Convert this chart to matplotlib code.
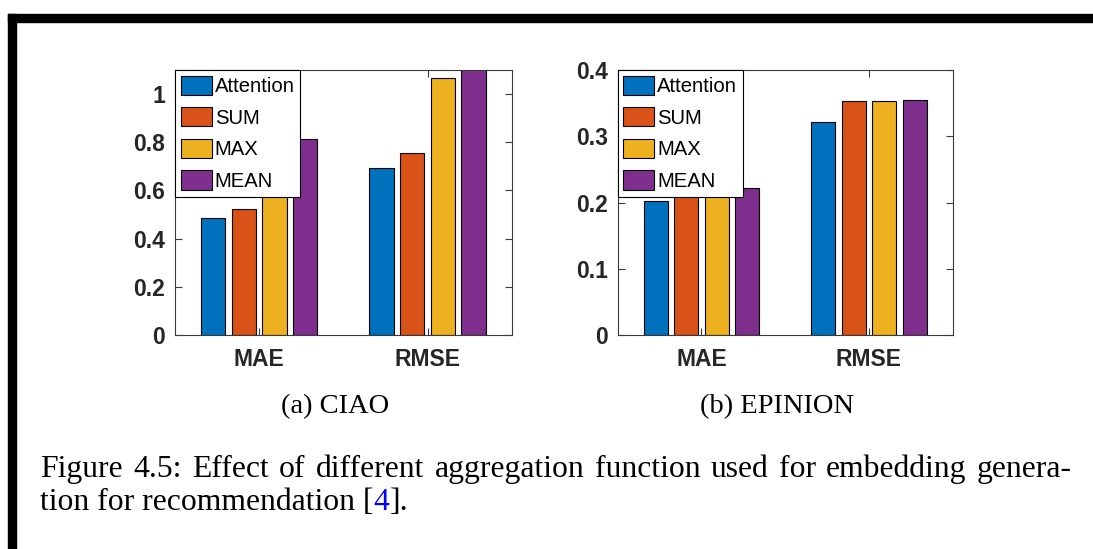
import matplotlib
matplotlib.use("Agg")
import matplotlib.pyplot as plt
import numpy as np
from matplotlib.patches import Rectangle

# ---- data ---------------------------------------------------------------
metrics = ["MAE", "RMSE"]
methods = ["Attention", "SUM", "MAX", "MEAN"]

ciao_attention = [0.485, 0.694]
ciao_sum = [0.521, 0.757]
ciao_max = [0.74, 1.067]
ciao_mean = [0.814, 1.13]

epinion_attention = [0.203, 0.322]
epinion_sum = [0.2165, 0.3525]
epinion_max = [0.216, 0.3525]
epinion_mean = [0.2215, 0.355]

ciao_yticks = [0, 0.2, 0.4, 0.6, 0.8, 1.0]
ciao_yticklabels = ["0", "0.2", "0.4", "0.6", "0.8", "1"]
epinion_yticks = [0, 0.1, 0.2, 0.3, 0.4]
epinion_yticklabels = ["0", "0.1", "0.2", "0.3", "0.4"]

subcaptions = ["(a) CIAO", "(b) EPINION"]
caption_line1 = ("Figure 4.5: Effect of different aggregation function used "
                 "for embedding genera-")
caption_line2 = ["tion for recommendation [", "4", "]."]

# ---- style --------------------------------------------------------------
colors = ["#0072BD", "#D95319", "#EDB120", "#7E2F8E"]
axis_color = "#3a3a3a"
W, H = 1093, 549

fig = plt.figure(figsize=(W / 100, H / 100), dpi=100)
fig.patch.set_facecolor("white")


def fx(px):
    return px / W


def fy(py):
    return 1 - py / H


def bar_panel(rect, series, ylim, yticks, yticklabels):
    ax = fig.add_axes(rect)
    x = np.arange(1, len(metrics) + 1)
    step = 0.182
    width = 0.145
    for i, (vals, name) in enumerate(zip(series, methods)):
        ax.bar(x + (i - 1.5) * step, vals, width, color=colors[i],
               edgecolor="black", linewidth=0.8, label=name, zorder=2)
    ax.set_xlim(0.5, 2.5)
    ax.set_ylim(*ylim)
    ax.set_xticks(x)
    ax.set_xticklabels(metrics, fontfamily="Liberation Sans",
                       fontweight="bold", fontsize=16.5, color="#262626")
    ax.set_yticks(yticks)
    ax.set_yticklabels(yticklabels, fontfamily="Liberation Sans",
                       fontweight="bold", fontsize=16.5, color="#262626")
    ax.tick_params(direction="in", top=True, right=True, length=5,
                   width=0.8, color=axis_color)
    ax.tick_params(axis="x", pad=9)
    ax.tick_params(axis="y", pad=7)
    for s in ax.spines.values():
        s.set_color(axis_color)
        s.set_linewidth(0.8)
    leg = ax.legend(loc="upper left", borderaxespad=0, borderpad=0.28,
                    handlelength=1.53, handleheight=1.07, handletextpad=0.15,
                    labelspacing=0.55, fancybox=False, framealpha=1,
                    edgecolor="black",
                    prop={"family": "Liberation Sans", "size": 14.6})
    leg.get_frame().set_linewidth(0.8)
    leg.set_zorder(5)
    return ax


bar_panel([fx(175), fy(335), fx(511.7 - 175), (335 - 70) / H],
          [ciao_attention, ciao_sum, ciao_max, ciao_mean],
          (0, 1.1), ciao_yticks, ciao_yticklabels)
bar_panel([fx(617.7), fy(335), fx(952.7 - 617.7), (335 - 70) / H],
          [epinion_attention, epinion_sum, epinion_max, epinion_mean],
          (0, 0.4), epinion_yticks, epinion_yticklabels)

# page frame lines
fig.patches.append(Rectangle((fx(8), fy(22)), 1 - fx(8), 8 / H,
                             transform=fig.transFigure, color="black", zorder=10))
fig.patches.append(Rectangle((fx(8), 0), 8 / W, fy(14),
                             transform=fig.transFigure, color="black", zorder=10))

serif = "Liberation Serif"
fig.text(fx(335), fy(413.3), subcaptions[0], family=serif, fontsize=20.5,
         ha="center", va="baseline")
fig.text(fx(777.5), fy(413.3), subcaptions[1], family=serif, fontsize=20.5,
         ha="center", va="baseline")

# caption: first line justified between the text margins
renderer = fig.canvas.get_renderer()
cap_size = 22.8
left_px, right_px = 40, 1072
words = caption_line1.split(" ")
texts = [fig.text(0, fy(476.7), w, family=serif, fontsize=cap_size,
                  va="baseline") for w in words]
widths = [t.get_window_extent(renderer).width for t in texts]
gap = (right_px - left_px - sum(widths)) / (len(words) - 1)
xpos = left_px
for t, w in zip(texts, widths):
    t.set_x(fx(xpos))
    xpos += w + gap

# second line, natural spacing, reference number in link blue
xpos = left_px
for part, col in zip(caption_line2, ["black", "#0000FF", "black"]):
    t = fig.text(fx(xpos), fy(510.3), part, family=serif, fontsize=cap_size,
                 va="baseline", color=col)
    xpos += t.get_window_extent(renderer).width

fig.savefig("out.png", dpi=100, facecolor="white")
